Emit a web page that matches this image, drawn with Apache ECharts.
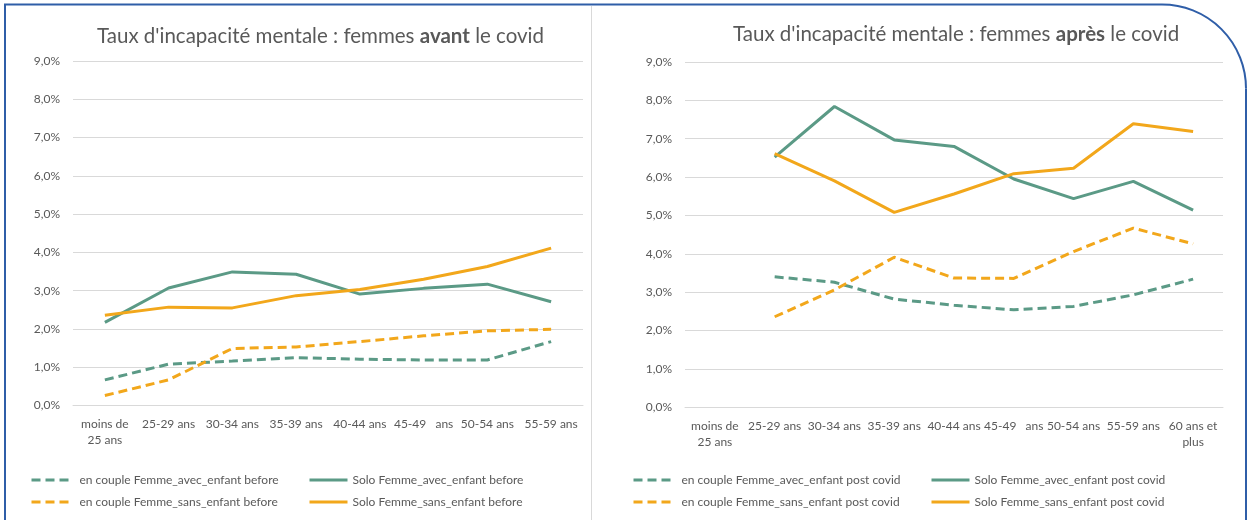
<!DOCTYPE html>
<html>
<head>
<meta charset="utf-8">
<script src="https://cdn.jsdelivr.net/npm/echarts@6/dist/echarts.min.js"></script>
<style>
  html, body { margin: 0; padding: 0; background: #fff; }
  #chart { width: 1253px; height: 520px; }
</style>
</head>
<body>
<div id="chart"></div>
<script>
// Age groups
const agesBefore = ['moins de\n25 ans', '25-29 ans', '30-34 ans', '35-39 ans', '40-44 ans', '45-49   ans', '50-54 ans', '55-59 ans'];
const agesAfter = ['moins de\n25 ans', '25-29 ans', '30-34 ans', '35-39 ans', '40-44 ans', '45-49   ans', '50-54 ans', '55-59 ans', '60 ans et\nplus'];

// Mental incapacity rate (%), women, before covid
const coupleAvecBefore = [0.67, 1.08, 1.16, 1.25, 1.21, 1.19, 1.19, 1.67];
const soloAvecBefore   = [2.17, 3.07, 3.49, 3.43, 2.91, 3.06, 3.17, 2.71];
const coupleSansBefore = [0.26, 0.67, 1.49, 1.53, 1.67, 1.82, 1.95, 1.99];
const soloSansBefore   = [2.36, 2.57, 2.55, 2.87, 3.03, 3.30, 3.63, 4.11];

// Mental incapacity rate (%), women, post covid
const coupleAvecAfter = [null, 3.40, 3.26, 2.82, 2.66, 2.54, 2.63, 2.93, 3.34];
const soloAvecAfter   = [null, 6.52, 7.84, 6.97, 6.80, 5.95, 5.44, 5.89, 5.14];
const coupleSansAfter = [null, 2.36, 3.06, 3.91, 3.37, 3.36, 4.06, 4.67, 4.26];
const soloSansAfter   = [null, 6.61, 5.90, 5.08, 5.56, 6.09, 6.23, 7.39, 7.19];

// Y axis ticks (%)
const yMin = 0, yMax = 9, yStep = 1;

const GREEN = '#5b9a86';
const ORANGE = '#f2a71b';
const TEXT = '#595959';
const GRID = '#d9d9d9';
const FRAME = '#2f5ea8';
const FONT = 'Lato';
const DASH = [9, 5];

const pct = v => v.toFixed(1).replace('.', ',') + '%';

function mkLine(name, data, color, dashed, gi) {
  return {
    name, type: 'line', data,
    xAxisIndex: gi, yAxisIndex: gi,
    symbol: 'none', smooth: false,
    lineStyle: { color, width: 3, type: dashed ? DASH : 'solid', cap: 'butt' },
    itemStyle: { color },
    emphasis: { disabled: true }
  };
}

// one legend entry; the line sample is kept, the point marker hidden
function mkLegend(name, left, top, dashed) {
  return {
    data: [name], left, top, itemWidth: 38, itemHeight: 12, itemGap: 0, padding: 0,
    selectedMode: false,
    itemStyle: { opacity: 0 },
    lineStyle: { width: 3, type: dashed ? DASH : 'solid', cap: 'butt' },
    textStyle: { fontFamily: FONT, fontSize: 12, color: TEXT, padding: [0, 0, 0, dashed ? 5 : 0] }
  };
}

function mkX(cats, gi) {
  return {
    type: 'category', gridIndex: gi, data: cats, boundaryGap: true,
    axisLine: { show: true, lineStyle: { color: GRID, width: 1 } },
    axisTick: { show: false },
    axisLabel: { interval: 0, color: TEXT, fontFamily: FONT, fontSize: 12, lineHeight: 16, margin: 11 }
  };
}

function mkY(gi) {
  return {
    type: 'value', gridIndex: gi, min: yMin, max: yMax, interval: yStep,
    axisLine: { show: false }, axisTick: { show: false },
    splitLine: { lineStyle: { color: GRID, width: 1 } },
    axisLabel: { color: TEXT, fontFamily: FONT, fontSize: 12, margin: 13, formatter: pct }
  };
}

const titleRich = {
  n: { fontFamily: FONT, fontSize: 20.5, color: TEXT, fontWeight: 'normal' },
  b: { fontFamily: FONT, fontSize: 20.5, color: TEXT, fontWeight: 'bold' }
};

const names = {
  cab: 'en couple Femme_avec_enfant before',
  sab: 'Solo Femme_avec_enfant before',
  csb: 'en couple Femme_sans_enfant before',
  ssb: 'Solo Femme_sans_enfant before',
  caa: 'en couple Femme_avec_enfant post covid',
  saa: 'Solo Femme_avec_enfant post covid',
  csa: 'en couple Femme_sans_enfant post covid',
  ssa: 'Solo Femme_sans_enfant post covid'
};

const option = {
  animation: false,
  backgroundColor: '#ffffff',
  title: [
    { text: "{n|Taux d'incapacité mentale : femmes }{b|avant}{n| le covid}", left: 97, top: 26, padding: 0,
      textStyle: { fontWeight: 'normal', rich: titleRich } },
    { text: "{n|Taux d'incapacité mentale : femmes }{b|après}{n| le covid}", left: 733, top: 24, padding: 0,
      textStyle: { fontWeight: 'normal', rich: titleRich } }
  ],
  grid: [
    { left: 73, right: 670, top: 61, bottom: 114.5 },
    { left: 685, right: 30, top: 62, bottom: 112.7 }
  ],
  xAxis: [mkX(agesBefore, 0), mkX(agesAfter, 1)],
  yAxis: [mkY(0), mkY(1)],
  legend: [
    mkLegend(names.cab, 30, 474, true), mkLegend(names.sab, 308, 474, false),
    mkLegend(names.csb, 30, 496, true), mkLegend(names.ssb, 308, 496, false),
    mkLegend(names.caa, 632, 474, true), mkLegend(names.saa, 930, 474, false),
    mkLegend(names.csa, 632, 496, true), mkLegend(names.ssa, 930, 496, false)
  ],
  series: [
    mkLine(names.cab, coupleAvecBefore, GREEN, true, 0),
    mkLine(names.csb, coupleSansBefore, ORANGE, true, 0),
    mkLine(names.sab, soloAvecBefore, GREEN, false, 0),
    mkLine(names.ssb, soloSansBefore, ORANGE, false, 0),
    mkLine(names.caa, coupleAvecAfter, GREEN, true, 1),
    mkLine(names.csa, coupleSansAfter, ORANGE, true, 1),
    mkLine(names.saa, soloAvecAfter, GREEN, false, 1),
    mkLine(names.ssa, soloSansAfter, ORANGE, false, 1)
  ],
  graphic: [
    // divider between the two panels
    { type: 'line', shape: { x1: 591.5, y1: 6, x2: 591.5, y2: 520 }, style: { stroke: GRID, lineWidth: 1 }, silent: true },
    // blue frame with rounded top-right corner
    { type: 'polyline', shape: { points: [[5, 520], [5, 4.5], [1162, 4.5]] },
      style: { stroke: FRAME, lineWidth: 2, fill: null }, silent: true },
    { type: 'arc', shape: { cx: 1162, cy: 88.5, r: 84, startAngle: -Math.PI / 2, endAngle: 0, clockwise: true },
      style: { stroke: FRAME, lineWidth: 2, fill: null }, silent: true },
    { type: 'line', shape: { x1: 1246, y1: 88.5, x2: 1246, y2: 520 },
      style: { stroke: FRAME, lineWidth: 2 }, silent: true }
  ]
};

const chart = echarts.init(document.getElementById('chart'), null, { renderer: 'canvas' });
chart.setOption(option);
</script>
</body>
</html>
